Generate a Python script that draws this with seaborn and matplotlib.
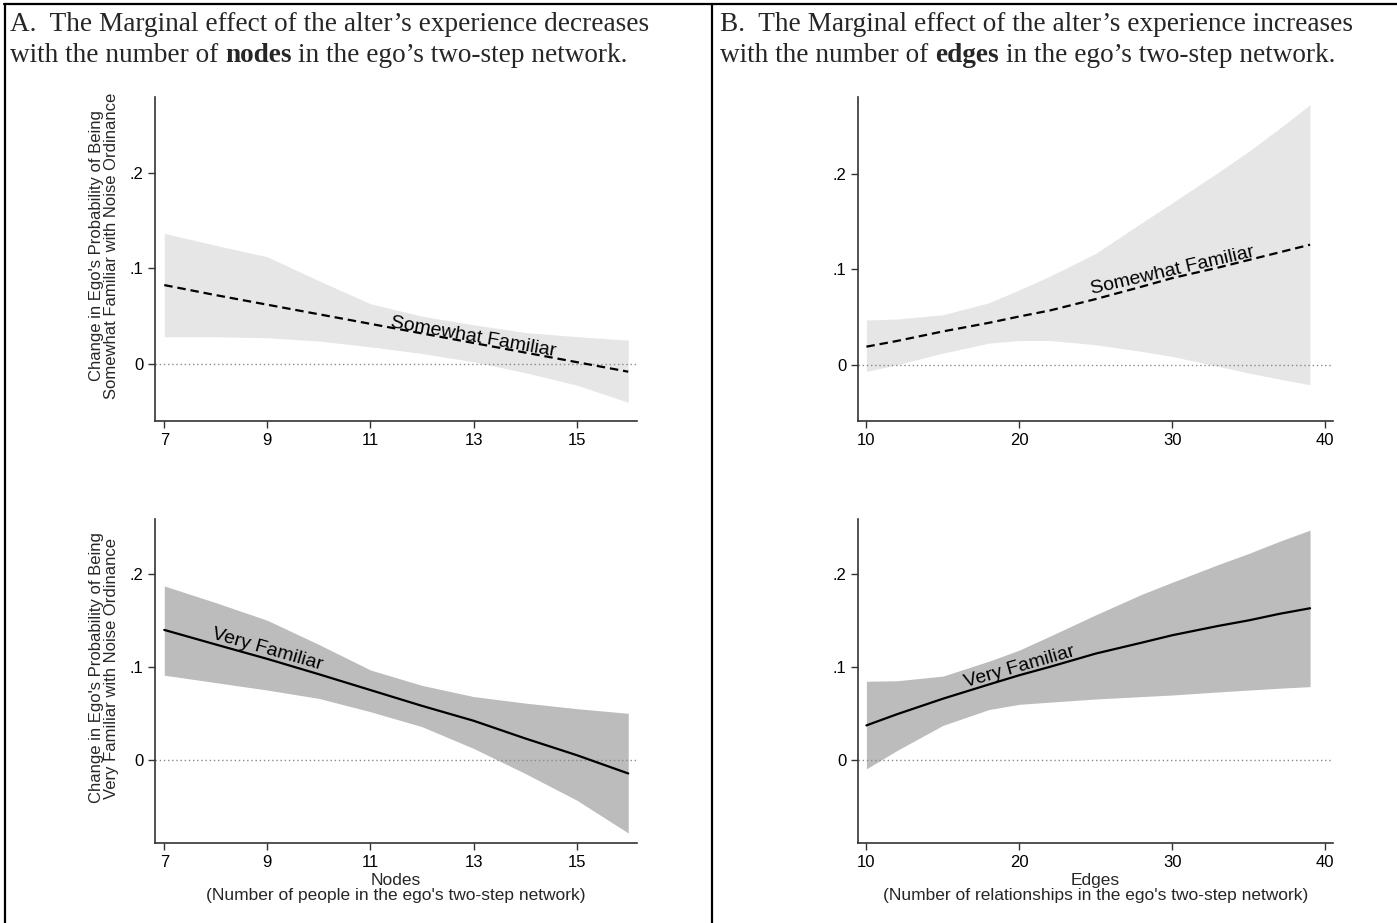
import numpy as np
import pandas as pd
import matplotlib.pyplot as plt
import seaborn as sns
from matplotlib.lines import Line2D

# values
nodes = [7, 8, 9, 10, 11, 12, 13, 14, 15, 16]
nodes_sf_mean = [0.0825, 0.072, 0.062, 0.052, 0.042, 0.032, 0.022, 0.012, 0.002, -0.008]
nodes_sf_hi = [0.1365, 0.124, 0.112, 0.087, 0.063, 0.050, 0.041, 0.033, 0.0286, 0.025]
nodes_sf_lo = [0.0285, 0.0285, 0.0275, 0.024, 0.018, 0.011, 0.0024, -0.009, -0.022, -0.040]

nodes_vf_mean = [0.1397, 0.124, 0.1085, 0.092, 0.075, 0.058, 0.042, 0.023, 0.005, -0.0147]
nodes_vf_hi = [0.187, 0.169, 0.150, 0.124, 0.0966, 0.080, 0.068, 0.061, 0.055, 0.050]
nodes_vf_lo = [0.091, 0.083, 0.075, 0.066, 0.0517, 0.0356, 0.0122, -0.0147, -0.0434, -0.0787]

edges = [10, 12, 15, 18, 20, 22, 25, 28, 30, 33, 35, 37, 39]
edges_sf_mean = [0.019, 0.025, 0.035, 0.044, 0.0507, 0.057, 0.069, 0.082, 0.091, 0.102, 0.110, 0.118, 0.126]
edges_sf_hi = [0.047, 0.048, 0.0525, 0.065, 0.0787, 0.093, 0.117, 0.149, 0.170, 0.202, 0.224, 0.248, 0.273]
edges_sf_lo = [-0.007, 0.0, 0.0122, 0.0227, 0.0255, 0.0255, 0.021, 0.014, 0.0087, -0.0017, -0.0087, -0.015, -0.021]

edges_vf_mean = [0.037, 0.049, 0.0657, 0.081, 0.091, 0.100, 0.1143, 0.126, 0.134, 0.144, 0.150, 0.157, 0.163]
edges_vf_hi = [0.0845, 0.085, 0.090, 0.106, 0.118, 0.133, 0.156, 0.178, 0.191, 0.210, 0.222, 0.235, 0.247]
edges_vf_lo = [-0.0097, 0.010, 0.037, 0.054, 0.0597, 0.062, 0.0654, 0.068, 0.0697, 0.073, 0.075, 0.077, 0.0787]

ylab_sf = "Change in Ego's Probability of Being\nSomewhat Familiar with Noise Ordinance"
ylab_vf = "Change in Ego's Probability of Being\nVery Familiar with Noise Ordinance"
xlab_nodes = "Nodes\n(Number of people in the ego's two-step network)"
xlab_edges = "Edges\n(Number of relationships in the ego's two-step network)"

sns.set_style("ticks")
plt.rcParams['font.family'] = ['Liberation Sans', 'DejaVu Sans']

W, H = 1397, 923
fig = plt.figure(figsize=(W / 100, H / 100), dpi=100)


def px_axes(left, top, right, bottom):
    return fig.add_axes([left / W, 1 - bottom / H, (right - left) / W, (bottom - top) / H])


def panel(ax, x, mean, lo, hi, dash, fill, text, tx, ty, rot, xlim, ylim, xticks):
    df = pd.DataFrame({'x': x, 'mean': mean, 'lo': lo, 'hi': hi})
    ax.fill_between(df['x'], df['lo'], df['hi'], color=fill, lw=0, zorder=1)
    ax.axhline(0, color='#8a8a8a', lw=1.0, ls=(0, (1, 2)), zorder=2)
    sns.lineplot(data=df, x='x', y='mean', ax=ax, color='black', lw=1.6, zorder=3)
    if dash:
        ax.lines[-1].set_linestyle((0, (3.8, 2.2)))
    ax.text(tx, ty, text, rotation=rot, rotation_mode='anchor', ha='center', va='center',
            fontsize=14, color='black', zorder=4)
    ax.set_xlim(*xlim)
    ax.set_ylim(*ylim)
    ax.set_xticks(xticks)
    ax.set_yticks([0, 0.1, 0.2])
    ax.set_yticklabels(['0', '.1', '.2'])
    ax.set_xlabel('')
    ax.set_ylabel('')
    for s in ['top', 'right']:
        ax.spines[s].set_visible(False)
    for s in ['left', 'bottom']:
        ax.spines[s].set_color('#333333')
        ax.spines[s].set_linewidth(1.2)
    ax.tick_params(length=5, width=1, color='#333333', labelsize=12, pad=3.5, labelcolor='black')


ax1 = px_axes(155, 97, 637, 421)
ax2 = px_axes(155, 519, 637, 843)
ax3 = px_axes(858, 97, 1333, 421)
ax4 = px_axes(858, 519, 1333, 843)

panel(ax1, nodes, nodes_sf_mean, nodes_sf_lo, nodes_sf_hi, True, '#e6e6e6',
      'Somewhat Familiar', 13.0, 0.028, -10, (6.82, 16.17), (-0.0595, 0.279), [7, 9, 11, 13, 15])
panel(ax2, nodes, nodes_vf_mean, nodes_vf_lo, nodes_vf_hi, False, '#bcbcbc',
      'Very Familiar', 9.0, 0.118, -16, (6.82, 16.17), (-0.0895, 0.259), [7, 9, 11, 13, 15])
panel(ax3, edges, edges_sf_mean, edges_sf_lo, edges_sf_hi, True, '#e6e6e6',
      'Somewhat Familiar', 30.0, 0.099, 13, (9.45, 40.5), (-0.059, 0.281), [10, 20, 30, 40])
panel(ax4, edges, edges_vf_mean, edges_vf_lo, edges_vf_hi, False, '#bcbcbc',
      'Very Familiar', 20.0, 0.100, 16, (9.45, 40.5), (-0.0895, 0.259), [10, 20, 30, 40])

for ax, lab in [(ax1, ylab_sf), (ax2, ylab_vf)]:
    ax.set_ylabel(lab, fontsize=12, linespacing=0.98)
    ax.yaxis.set_label_coords(-0.075, 0.54)

ax2.set_xlabel(xlab_nodes, fontsize=12.5, linespacing=1.0, labelpad=2)
ax4.set_xlabel(xlab_edges, fontsize=12.5, linespacing=1.0, labelpad=2)

# table-like frame
frame_kw = dict(color='black', lw=1.6, transform=fig.transFigure)
fig.add_artist(Line2D([4 / W, 1], [1 - 4 / H, 1 - 4 / H], **frame_kw))
fig.add_artist(Line2D([5 / W, 5 / W], [0, 1 - 4 / H], **frame_kw))
fig.add_artist(Line2D([712 / W, 712 / W], [0, 1 - 4 / H], **frame_kw))

# panel headings, serif with one bold word
serif = ['Liberation Serif', 'DejaVu Serif']
hsize = 19.65
space = 0.25 * hsize * 100 / 72 / W


def heading(x0, line1, pre, bold, post):
    fig.text(x0 / W, 1 - 31 / H, line1, family=serif, fontsize=hsize, va='baseline')
    t1 = fig.text(x0 / W, 1 - 62 / H, pre, family=serif, fontsize=hsize, va='baseline')
    fig.canvas.draw()
    r = fig.canvas.get_renderer()
    x1 = fig.transFigure.inverted().transform(t1.get_window_extent(r))[1][0] + space
    t2 = fig.text(x1, 1 - 62 / H, bold, family=serif, fontsize=hsize, va='baseline', weight='bold')
    fig.canvas.draw()
    x2 = fig.transFigure.inverted().transform(t2.get_window_extent(r))[1][0] + space
    fig.text(x2, 1 - 62 / H, post, family=serif, fontsize=hsize, va='baseline')


heading(10, "A.  The Marginal effect of the alter\u2019s experience decreases",
        "with the number of", "nodes", "in the ego\u2019s two-step network.")
heading(720, "B.  The Marginal effect of the alter\u2019s experience increases",
        "with the number of", "edges", "in the ego\u2019s two-step network.")

fig.savefig('out.png', dpi=100)
